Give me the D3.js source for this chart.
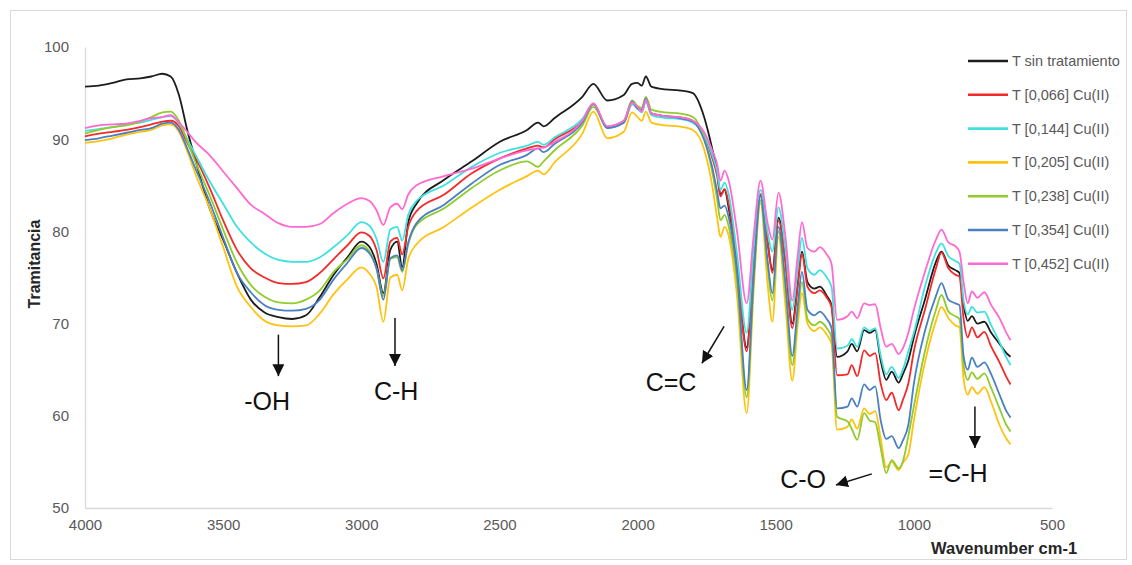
<!DOCTYPE html>
<html>
<head>
<meta charset="utf-8">
<script src="https://cdn.jsdelivr.net/npm/d3@7/dist/d3.min.js"></script>
<style>
  body { margin: 0; background: #fff; }
  svg { display: block; font-family: "Liberation Sans", Arial, sans-serif; }
</style>
</head>
<body>
<div id="chart"></div>
<script>
// shared wavenumber grid (cm-1)
var wavenumbers = [
  4000, 3950, 3900, 3850, 3800, 3760, 3720, 3690, 3660, 3630,
  3600, 3550, 3500, 3450, 3400, 3350, 3300, 3250, 3200, 3150,
  3100, 3050, 3000, 2970, 2945, 2920, 2895, 2870, 2852, 2830,
  2800, 2700, 2600, 2500, 2400, 2360, 2340, 2300, 2200, 2160,
  2110, 2050, 2020, 2000, 1985, 1970, 1950, 1900, 1850, 1800,
  1760, 1730, 1712, 1700, 1685, 1670, 1640, 1605, 1580, 1555,
  1530, 1512, 1490, 1465, 1440, 1420, 1405, 1385, 1360, 1340,
  1315, 1298, 1278, 1240, 1225, 1205, 1180, 1160, 1140, 1120,
  1100, 1080, 1055, 1040, 1020, 1000, 960, 920, 900, 875,
  850, 835, 820, 805, 790, 770, 745, 720, 690, 665,
  650
];

var tSinTratamiento = [
  95.7, 95.8, 96.1, 96.5, 96.6, 96.8, 97.1, 96.8, 94.8, 91.0,
  87.7, 82.6, 79.1, 75.5, 72.6, 71.2, 70.7, 70.5, 70.9, 72.9,
  75.3, 77.2, 78.9, 78.3, 76.5, 73.3, 78.0, 78.9, 76.1, 81.0,
  83.0, 85.6, 87.6, 89.7, 91.0, 91.8, 91.4, 92.3, 94.6, 96.0,
  94.2, 94.8, 96.0, 96.1, 95.8, 96.8, 95.7, 95.4, 95.3, 95.0,
  92.5, 89.0, 86.5, 84.0, 84.5, 82.5, 76.0, 67.4, 77.0, 84.0,
  79.0, 75.8, 81.5, 77.0, 70.0, 74.5, 77.8, 74.5, 73.8, 74.0,
  73.0, 72.0, 66.4, 67.0, 67.8, 67.0, 69.3, 69.0, 69.3, 66.0,
  63.9, 64.8, 63.6, 64.5, 66.0, 68.5, 72.6, 76.7, 77.8, 76.3,
  75.8, 75.5, 72.0, 70.3, 70.8, 70.0, 70.2, 69.0, 67.8, 66.8,
  66.4
];

var t066 = [
  90.3, 90.6, 90.8, 91.0, 91.3, 91.6, 91.9, 92.0, 91.4, 89.6,
  88.0, 84.8, 81.2, 78.0, 76.0, 75.0, 74.4, 74.3, 74.5, 75.5,
  77.0, 78.5, 79.9, 79.5, 78.0, 74.9, 78.9, 79.3, 77.5, 80.5,
  82.2, 84.0, 86.3, 87.9, 89.0, 89.3, 89.1, 90.0, 92.0, 93.8,
  91.3, 91.8, 93.8, 93.5, 93.0, 94.2, 92.8, 92.5, 92.4, 92.0,
  90.5, 88.0, 86.0, 83.8, 84.6, 83.0, 76.5, 67.0, 77.0, 84.0,
  79.0, 75.5, 81.2, 76.5, 69.5, 74.0, 77.6, 74.0, 73.3, 73.6,
  72.8, 71.8, 64.4, 64.5, 65.5, 64.3, 67.1, 66.5, 66.8, 63.5,
  61.7, 62.5, 60.6, 61.7, 63.5, 67.0, 71.5, 76.0, 77.7, 76.0,
  75.3, 75.1, 70.5, 68.5, 69.6, 68.5, 69.1, 67.5, 65.8, 64.2,
  63.4
];

var t144 = [
  90.9, 91.1, 91.3, 91.6, 91.8, 92.1, 92.4, 92.5, 91.7, 90.0,
  88.3, 85.5, 83.0, 80.5, 78.8, 77.6, 76.9, 76.7, 76.7, 77.2,
  78.3, 79.6, 81.0, 80.6, 79.2, 76.7, 80.2, 80.5, 79.0, 81.8,
  83.3, 85.0, 87.0, 88.5, 89.3, 89.7, 89.4, 90.2, 92.2, 93.8,
  91.2, 91.8, 93.8, 93.3, 92.9, 94.1, 92.6, 92.3, 92.2, 91.8,
  90.5, 88.3, 86.5, 84.5, 85.3, 84.0, 77.5, 69.0, 78.0, 84.5,
  80.0, 77.8, 82.6, 78.0, 71.5, 76.0, 79.3, 76.0, 75.3, 75.8,
  75.0, 74.0, 67.3, 67.6, 68.3, 67.5, 69.6, 69.2, 69.5, 66.5,
  64.5, 65.3, 64.1, 65.0, 67.0, 69.0, 74.0, 77.7, 78.7, 77.3,
  76.8, 76.5, 72.5, 71.0, 71.8, 71.2, 71.3, 69.8, 68.0, 66.3,
  65.5
];

var t205 = [
  89.6, 89.8, 90.1, 90.5, 90.8, 91.0, 91.5, 91.6, 90.8, 88.7,
  86.2, 82.6, 78.3, 74.0, 71.8, 70.3, 69.8, 69.7, 69.8, 71.1,
  73.2, 74.8, 76.1, 75.4, 74.0, 70.2, 75.0, 75.3, 73.6, 77.0,
  78.6, 80.5, 82.6, 84.5, 86.0, 86.6, 86.2, 87.5, 90.6, 93.0,
  90.1, 90.8, 92.9, 92.4, 92.0, 93.0, 91.8, 91.5, 91.4, 91.0,
  89.0, 85.0, 81.5, 79.4, 80.5, 79.5, 73.0, 60.3, 73.5, 83.1,
  74.5, 70.2, 79.4, 72.0, 63.8, 70.0, 73.3, 70.0, 69.2, 69.6,
  68.8, 67.8, 58.5, 58.8, 59.6, 58.6, 60.8, 60.2, 60.5, 57.5,
  54.4, 55.0, 54.1, 54.9, 55.8, 59.5, 65.8, 70.3, 71.8, 70.6,
  69.8, 69.6, 64.0, 62.3, 63.1, 62.4, 63.1, 61.5, 59.0, 57.5,
  56.9
];

var t238 = [
  90.6, 91.0, 91.3, 91.5, 91.9, 92.4, 92.9, 93.0, 92.0, 89.8,
  87.5, 84.0, 80.2, 76.6, 74.2, 72.9, 72.3, 72.2, 72.6, 73.6,
  75.6, 77.0, 78.5, 77.8, 76.0, 73.0, 77.0, 77.2, 75.6, 78.6,
  80.7, 82.5, 84.7, 86.6, 87.6, 87.0, 87.6, 88.8, 91.5, 93.5,
  91.4, 92.0, 94.2, 93.6, 93.4, 94.6, 93.2, 92.9, 92.8, 92.4,
  90.2, 86.5, 83.5, 81.2, 81.8, 80.5, 74.5, 62.0, 74.5, 83.4,
  76.3, 72.5, 80.0, 73.5, 65.5, 71.0, 74.5, 70.5, 69.8, 70.2,
  69.5, 68.5, 59.9, 59.4, 58.6, 57.4, 60.3, 59.5, 59.3, 56.5,
  53.8, 55.2, 54.3, 55.0, 57.8, 61.0, 67.0, 71.5, 73.1, 71.3,
  70.8, 70.5, 65.5, 63.9, 64.7, 64.0, 64.6, 63.0, 60.8, 59.0,
  58.3
];

var t354 = [
  89.9, 90.1, 90.4, 90.7, 91.0, 91.2, 91.7, 91.8, 91.0, 89.0,
  86.8, 83.3, 79.3, 75.5, 73.4, 72.0, 71.5, 71.4, 71.6, 72.6,
  74.8, 76.6, 78.2, 77.6, 76.0, 72.6, 77.1, 77.4, 75.8, 78.8,
  80.9, 82.9, 85.2, 87.2, 88.3, 89.0, 88.6, 89.5, 91.8, 93.8,
  91.2, 91.8, 94.1, 93.3, 93.2, 94.4, 92.8, 92.5, 92.3, 91.9,
  90.0, 87.0, 84.3, 82.5, 82.8, 81.5, 75.5, 62.8, 75.0, 83.8,
  77.0, 73.3, 80.5, 74.5, 66.5, 72.0, 75.6, 71.5, 70.9, 71.3,
  70.5, 69.5, 60.8, 61.0, 61.9, 61.0, 63.4, 62.8, 63.2, 59.5,
  57.5, 57.8, 56.5, 57.3, 59.0, 63.5, 69.2, 73.0, 74.4, 72.6,
  72.2, 72.0, 66.5, 65.0, 66.3, 65.3, 65.8, 64.5, 62.3, 60.5,
  59.8
];

var t452 = [
  91.2, 91.5, 91.6, 91.7, 92.0, 92.3, 92.4, 92.6, 91.8, 90.8,
  89.7, 88.3, 86.5, 84.7, 82.9, 81.9, 80.9, 80.5, 80.5, 80.8,
  82.0, 83.0, 83.6, 83.3, 82.3, 80.7, 82.6, 83.0, 82.4, 84.0,
  85.0, 86.0, 86.8, 87.9, 88.8, 89.0, 89.1, 89.7, 92.0, 93.9,
  91.4, 92.0, 94.0, 93.5, 93.0, 94.3, 92.8, 92.5, 92.4, 92.0,
  90.8, 88.8, 87.3, 85.5, 86.6, 85.5, 80.0, 72.2, 79.5, 85.5,
  81.0, 79.1, 84.2, 79.5, 72.5, 77.5, 81.0, 78.2, 77.8, 78.3,
  77.5, 76.5, 70.4, 70.8, 71.3, 70.6, 72.2, 72.0, 72.1, 69.5,
  67.5, 67.8, 66.7, 67.3, 69.0, 71.5, 75.6, 79.1, 80.2, 78.8,
  78.4, 77.8, 74.5, 72.2, 73.5, 72.8, 73.4, 72.0, 70.6, 69.0,
  68.2
];

var seriesNames = ["T sin tratamiento", "T [0,066] Cu(II)", "T [0,144] Cu(II)", "T [0,205] Cu(II)",
                   "T [0,238] Cu(II)", "T [0,354] Cu(II)", "T [0,452] Cu(II)"];
var seriesValues = [tSinTratamiento, t066, t144, t205, t238, t354, t452];
var seriesColors = ["#1c1c1c", "#f42a2a", "#3fe0e0", "#ffc20e", "#8fcc2c", "#4a80c2", "#ff6ad2"];

var xTicks = [4000, 3500, 3000, 2500, 2000, 1500, 1000, 500];
var yTicks = [50, 60, 70, 80, 90, 100];

// band labels with arrows, in data units
var bandLabels = [
  {label: "-OH",  tx: 3341, ty: 61.6, x1: 3300, y1: 68.8, x2: 3300, y2: 64.3},
  {label: "C-H",  tx: 2874, ty: 62.7, x1: 2878, y1: 70.6, x2: 2878, y2: 65.4},
  {label: "C=C",  tx: 1879, ty: 63.7, x1: 1687, y1: 69.7, x2: 1767, y2: 65.7},
  {label: "C-O",  tx: 1401, ty: 53.1, x1: 1152, y1: 53.7, x2: 1282, y2: 52.5},
  {label: "=C-H", tx: 840,  ty: 53.8, x1: 779,  y1: 61.0, x2: 779,  y2: 56.5}
];

var W = 1132, H = 565;
var svg = d3.select("#chart").append("svg")
  .attr("width", W)
  .attr("height", H);

// outer frame
svg.append("rect")
  .attr("x", 10.5).attr("y", 10.5)
  .attr("width", 1116).attr("height", 549)
  .attr("fill", "none")
  .attr("stroke", "#d9d9d9");

var x = d3.scaleLinear().domain([4000, 500]).range([85, 1052]);
var y = d3.scaleLinear().domain([50, 100]).range([508, 47]);

var xAxis = svg.append("g")
  .attr("transform", "translate(0," + y(50) + ")")
  .call(d3.axisBottom(x).tickValues(xTicks).tickSize(0).tickPadding(11).tickFormat(d3.format("d")));
var yAxis = svg.append("g")
  .attr("transform", "translate(" + x(4000) + ",0)")
  .call(d3.axisLeft(y).tickValues(yTicks).tickSize(0).tickPadding(16));

[xAxis, yAxis].forEach(function(g) {
  g.select(".domain").attr("stroke", "#d9d9d9").attr("stroke-width", 1.3);
  g.selectAll("text")
    .attr("fill", "#595959")
    .style("font-size", "15px")
    .style("font-family", "'Liberation Sans', Arial, sans-serif");
});

svg.append("text")
  .attr("transform", "translate(40," + 264 + ") rotate(-90)")
  .attr("text-anchor", "middle")
  .attr("fill", "#262626")
  .style("font-size", "16px")
  .style("font-weight", "bold")
  .text("Tramitancia");

svg.append("text")
  .attr("x", 931).attr("y", 554)
  .attr("fill", "#262626")
  .style("font-size", "16.5px")
  .style("font-weight", "bold")
  .text("Wavenumber cm-1");

var line = d3.line()
  .x(function(d) { return x(d.w); })
  .y(function(d) { return y(d.v); })
  .curve(d3.curveMonotoneX);

var series = seriesNames.map(function(name, i) {
  return {
    name: name,
    color: seriesColors[i],
    values: wavenumbers.map(function(w, j) { return {w: w, v: seriesValues[i][j]}; })
  };
});

svg.append("g").selectAll("path")
  .data(series)
  .enter().append("path")
    .attr("fill", "none")
    .attr("stroke", function(d) { return d.color; })
    .attr("stroke-width", 1.8)
    .attr("stroke-linejoin", "round")
    .attr("d", function(d) { return line(d.values); });

// legend
var legend = svg.append("g").selectAll("g")
  .data(series)
  .enter().append("g")
    .attr("transform", function(d, i) { return "translate(968," + (61 + i * 33.8) + ")"; });
legend.append("line")
  .attr("x1", 0).attr("x2", 40)
  .attr("stroke", function(d) { return d.color; })
  .attr("stroke-width", 2.6);
legend.append("text")
  .attr("x", 44)
  .attr("dy", "0.35em")
  .attr("fill", "#595959")
  .style("font-size", "14.5px")
  .text(function(d) { return d.name; });

// arrows
svg.append("defs").append("marker")
  .attr("id", "head")
  .attr("viewBox", "0 0 12 12")
  .attr("refX", 12).attr("refY", 6)
  .attr("markerWidth", 12).attr("markerHeight", 12)
  .attr("markerUnits", "userSpaceOnUse")
  .attr("orient", "auto")
  .append("path")
    .attr("d", "M0,0 L12,6 L0,12 Z")
    .attr("fill", "#111");

var bands = svg.append("g").selectAll("g")
  .data(bandLabels)
  .enter().append("g");
bands.append("line")
  .attr("x1", function(d) { return x(d.x1); })
  .attr("y1", function(d) { return y(d.y1); })
  .attr("x2", function(d) { return x(d.x2); })
  .attr("y2", function(d) { return y(d.y2); })
  .attr("stroke", "#111")
  .attr("stroke-width", 1.5)
  .attr("marker-end", "url(#head)");
bands.append("text")
  .attr("x", function(d) { return x(d.tx); })
  .attr("y", function(d) { return y(d.ty); })
  .attr("text-anchor", "middle")
  .attr("dy", "0.36em")
  .attr("fill", "#111")
  .style("font-size", "25px")
  .text(function(d) { return d.label; });
</script>
</body>
</html>
